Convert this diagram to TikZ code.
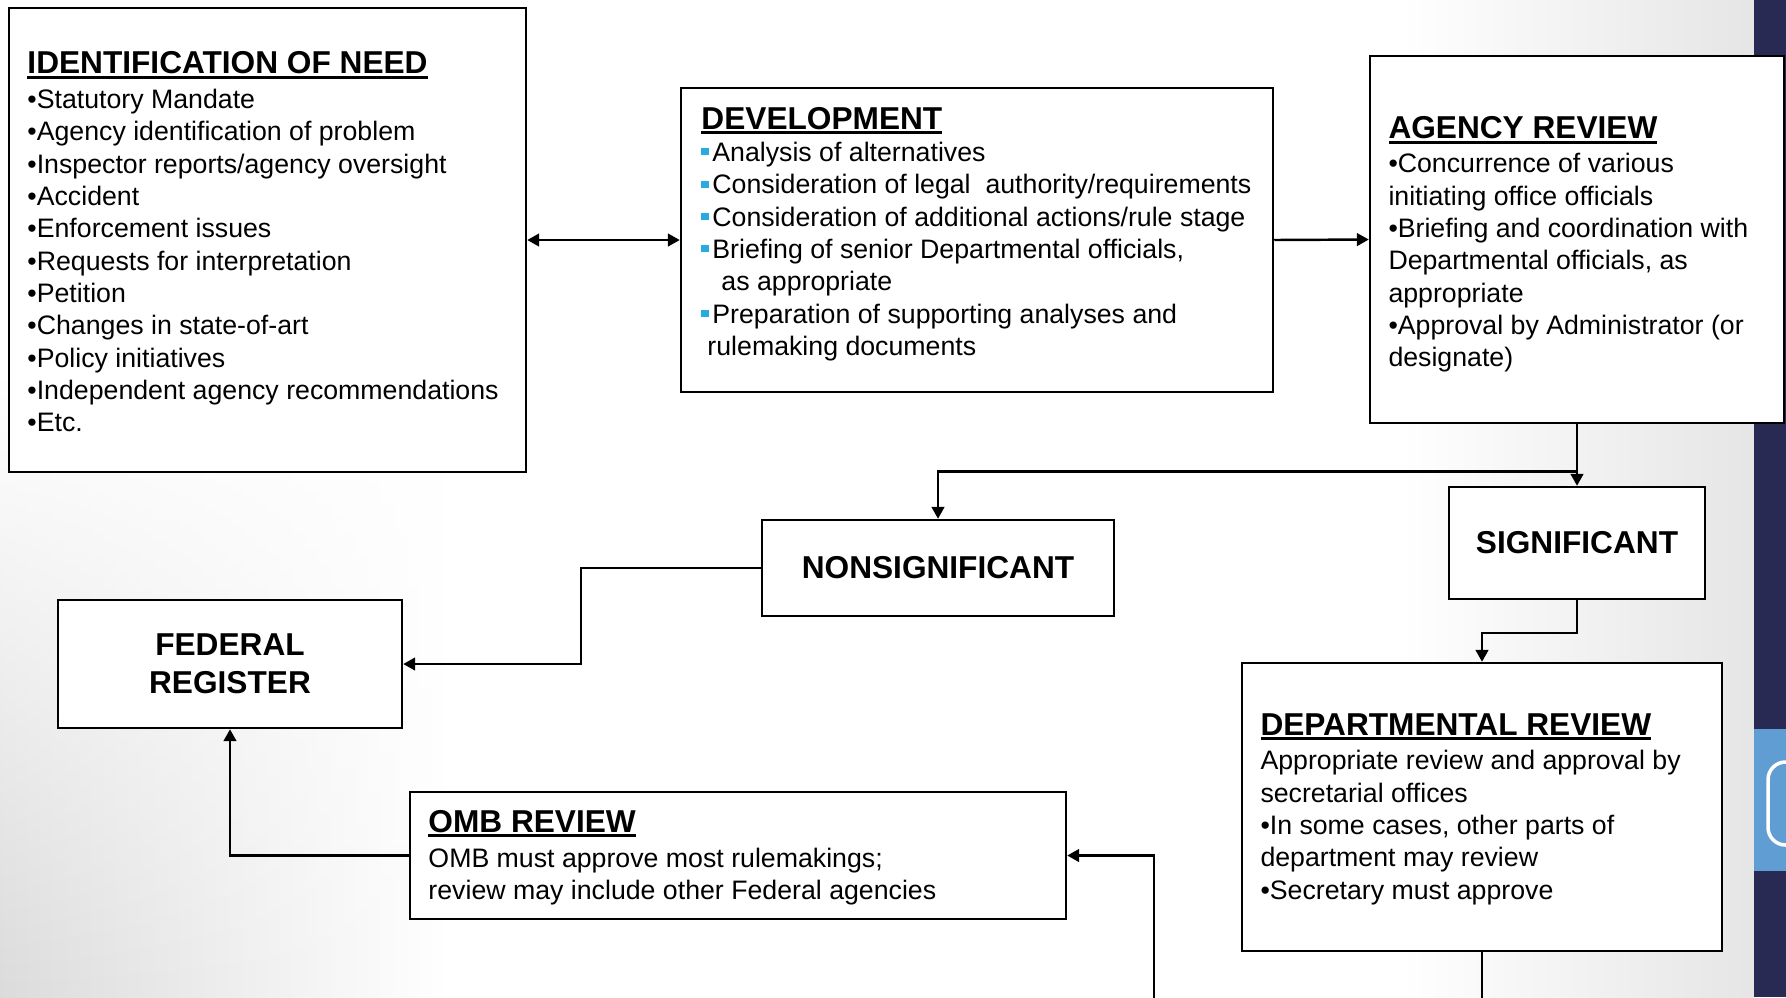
\documentclass[tikz,border=0pt]{standalone}
\usepackage{fontspec}
\setmainfont{Liberation Sans}
\usetikzlibrary{arrows.meta, positioning, fadings}
\definecolor{bulletblue}{RGB}{41,171,226}
\definecolor{barnavy}{RGB}{41,42,84}
\definecolor{barblue}{RGB}{96,157,210}
\newcommand\headul[1]{{\fontsize{9}{9.2}\selectfont\bfseries\setbox0\hbox{#1}\rlap{\rule[-1.4pt]{\wd0}{0.8pt}}\box0}}
\newcommand\sqb{{\color{bulletblue}\rule[1.7pt]{2pt}{2pt}}\hspace{1.1pt}}

\begin{document}
\begin{tikzpicture}[
    x=0.1mm, y=-0.1mm,
    >={Triangle[length=3.4pt,width=3.6pt]},
    box/.style={draw, line width=0.7pt, fill=white, inner sep=0pt},
    boxtext/.style={font=\fontsize{7.6}{9.2}\selectfont, align=left, inner sep=0pt},
    tag/.style={font=\fontsize{9}{10.7}\selectfont\bfseries, align=center},
    link/.style={line width=0.7pt, ->}
]

\useasboundingbox (0,0) rectangle (1786,997);
\fill[white] (0,0) rectangle (1754,997);
\shade[left color=black!14, right color=white, path fading=north] (0,380) rectangle (450,997);
\shade[left color=white, right color=black!10] (1400,0) rectangle (1754,997);
\fill[barnavy] (1754,0) rectangle (1786,997);
\fill[barblue] (1754,729) rectangle (1786,871);
\begin{scope}
  \clip (1754,0) rectangle (1786,997);
  \draw[white, line width=1pt, rounded corners=5pt] (1768,762) rectangle (1830,845);
\end{scope}

\node[box, minimum width=51.7mm, minimum height=46.4mm] (need) at (267.5,240) {};
\node[boxtext, right=1.9mm of need.west, yshift=-0.2mm] (needtext) {\headul{IDENTIFICATION OF NEED}\\[0.7pt]
  •Statutory Mandate\\
  •Agency identification of problem\\
  •Inspector reports/agency oversight\\
  •Accident\\
  •Enforcement issues\\
  •Requests for interpretation\\
  •Petition\\
  •Changes in state-of-art\\
  •Policy initiatives\\
  •Independent agency recommendations\\
  •Etc.};

\node[box, minimum width=59.2mm, minimum height=30.4mm] (dev) at (977,240) {};
\node[boxtext, right=2.1mm of dev.west, yshift=0.6mm] (devtext) {\headul{DEVELOPMENT}\\
  \sqb Analysis of alternatives\\
  \sqb Consideration of legal\ \ authority/requirements\\
  \sqb Consideration of additional actions/rule stage\\
  \sqb Briefing of senior Departmental officials,\\
  \hspace{2mm}as appropriate\\
  \sqb Preparation of supporting analyses and\\
  \hspace{0.6mm}rulemaking documents};

\node[box, minimum width=41.4mm, minimum height=36.7mm] (agency) at (1577,239.5) {};
\node[boxtext, right=1.9mm of agency.west, yshift=-0.5mm] (agencytext) {\headul{AGENCY REVIEW}\\[0.5pt]
  •Concurrence of various\\
  initiating office officials\\
  •Briefing and coordination with\\
  Departmental officials, as\\
  appropriate\\
  •Approval by Administrator (or\\
  designate)};

\node[box, tag, minimum width=25.6mm, minimum height=11.2mm] (sig) at (1577,543) {SIGNIFICANT};
\node[box, tag, minimum width=35.2mm, minimum height=9.6mm] (nonsig) at (938,568) {NONSIGNIFICANT};
\node[box, tag, minimum width=34.4mm, minimum height=12.8mm] (fed) at (230,664) {FEDERAL\\REGISTER};

\node[box, minimum width=48mm, minimum height=28.8mm] (dept) at (1482,807) {};
\node[boxtext, right=1.9mm of dept.west, yshift=-0.2mm] (depttext) {\headul{DEPARTMENTAL REVIEW}\\[0.7pt]
  Appropriate review and approval by\\
  secretarial offices\\
  •In some cases, other parts of\\
  department may review\\
  •Secretary must approve};

\node[box, minimum width=65.6mm, minimum height=12.7mm] (omb) at (738,855.5) {};
\node[boxtext, right=1.9mm of omb.west, yshift=-0.2mm] (ombtext) {\headul{OMB REVIEW}\\[0.7pt]
  OMB must approve most rulemakings;\\
  review may include other Federal agencies};

\coordinate (split) at (1577,471.5);
\coordinate (deptout) at (1482,1005);
\coordinate (ombin) at (1154,1005);

\draw[link, <->] (need.east) -- (dev.west);
\draw[link] (dev.east) -- (agency.west);
\draw[link] (agency.south) -- (sig.north);
\draw[link] (split) -| (nonsig.north);
\draw[link] (sig.south) -- ++(0,33) -| (dept.north);
\draw[link] (nonsig.west) -- ++(-180,0) |- (fed.east);
\draw[link] (omb.west) -| (fed.south);
\draw[line width=0.7pt] (dept.south) -- (deptout);
\draw[link] (ombin) |- (omb.east);

\end{tikzpicture}
\end{document}
